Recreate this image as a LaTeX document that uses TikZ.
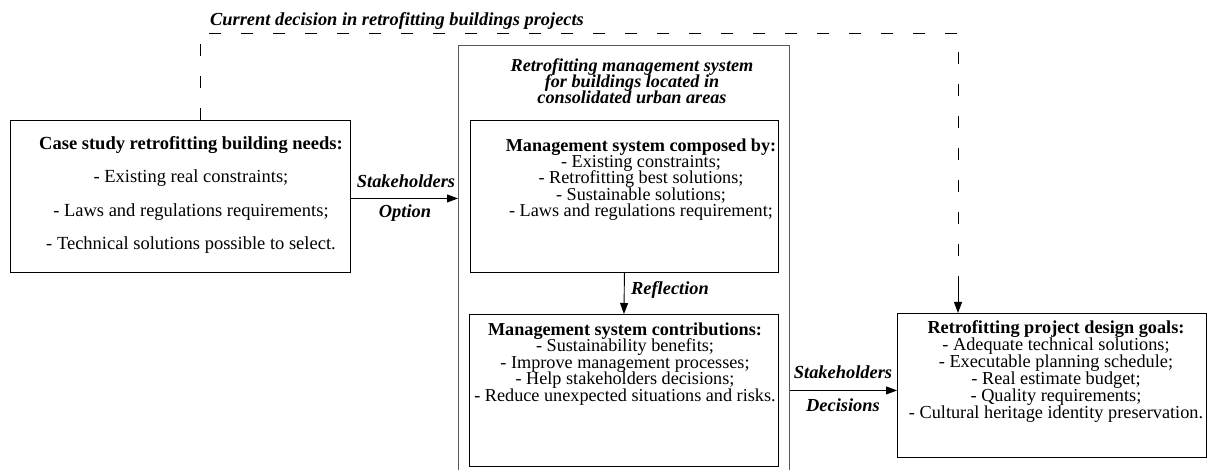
\documentclass[tikz,border=0pt]{standalone}
\usepackage{fontspec}
\setmainfont{Liberation Serif}
\usetikzlibrary{arrows.meta}
\lineskiplimit=-30pt
\tikzset{
  box/.style={draw=black, line width=0.9pt, inner sep=0pt, anchor=north west},
  outerbox/.style={draw=black!65, line width=1pt, inner sep=0pt, anchor=north west},
  txt/.style={align=center, inner sep=0pt, font=\fontsize{18.2}{16.4}\selectfont},
  lbl/.style={inner sep=0pt, font=\fontsize{18.4}{16}\selectfont\bfseries\itshape},
  arr/.style={-{Triangle[length=11pt,width=8pt]}, line width=0.9pt},
  dsh/.style={dash pattern=on 12pt off 20pt, line width=0.9pt},
}
\begin{document}
\begin{tikzpicture}[x=1pt,y=-1pt]
\useasboundingbox (0,0) rectangle (1208,470);
\clip (0,0) rectangle (1208,470);
% boxes
\node[box, minimum width=340pt, minimum height=152pt] (lb) at (10,120) {};
\node[outerbox, minimum width=331pt, minimum height=440pt] (outer) at (458,45) {};
\node[box, minimum width=308pt, minimum height=152pt] (it) at (470,120) {};
\node[box, minimum width=309pt, minimum height=152pt] (ib) at (469,314) {};
\node[box, minimum width=309pt, minimum height=144pt] (rb) at (897,313) {};
% texts
\node[txt, font=\fontsize{18.5}{33.3}\selectfont] (lbt) at (191,195)
  {\textbf{Case study retrofitting building needs:}\\- Existing real constraints;\\- Laws and regulations requirements;\\- Technical solutions possible to select.};
\node[txt, font=\fontsize{18.2}{16.2}\selectfont\bfseries\itshape] (ot) at (632,81)
  {Retrofitting management system\\for buildings located in\\consolidated urban areas};
\node[txt] (itt) at (641,179.5)
  {\textbf{Management system composed by:}\\- Existing constraints;\\- Retrofitting best solutions;\\- Sustainable solutions;\\- Laws and regulations requirement;};
\node[txt] (ibt) at (625,364)
  {\textbf{Management system contributions:}\\- Sustainability benefits;\\- Improve management processes;\\- Help stakeholders decisions;\\- Reduce unexpected situations and risks.};
\node[txt, font=\fontsize{18.3}{17}\selectfont] (rbt) at (1056,371.5)
  {\textbf{Retrofitting project design goals:}\\- Adequate technical solutions;\\- Executable planning schedule;\\- Real estimate budget;\\- Quality requirements;\\- Cultural heritage identity preservation.};
% labels
\node[lbl] (l1) at (397,21) {Current decision in retrofitting buildings projects};
\node[lbl] (l2) at (406,181) {Stakeholders};
\node[lbl] (l3) at (405,213) {Option};
\node[lbl] (l4) at (670,290) {Reflection};
\node[lbl] (l5) at (843,372) {Stakeholders};
\node[lbl] (l6) at (843,405) {Decisions};
% connectors
\draw[arr] ([yshift=-2pt]lb.east) -- ([yshift=-2pt]lb.east -| outer.west);
\draw[arr] (it.south) -- (ib.north);
\draw[arr] ([yshift=-5pt]rb.west -| outer.east) -- ([yshift=-5pt]rb.west);
\coordinate (dl) at (200,33);
\coordinate (dr) at (958,33);
\draw[dsh] (lb.north -| dl) -- (dl) -- (dr) -- ([yshift=25pt]rb.north -| dr);
\draw[arr] ([yshift=25pt]rb.north -| dr) -- (rb.north -| dr);
\end{tikzpicture}
\end{document}
